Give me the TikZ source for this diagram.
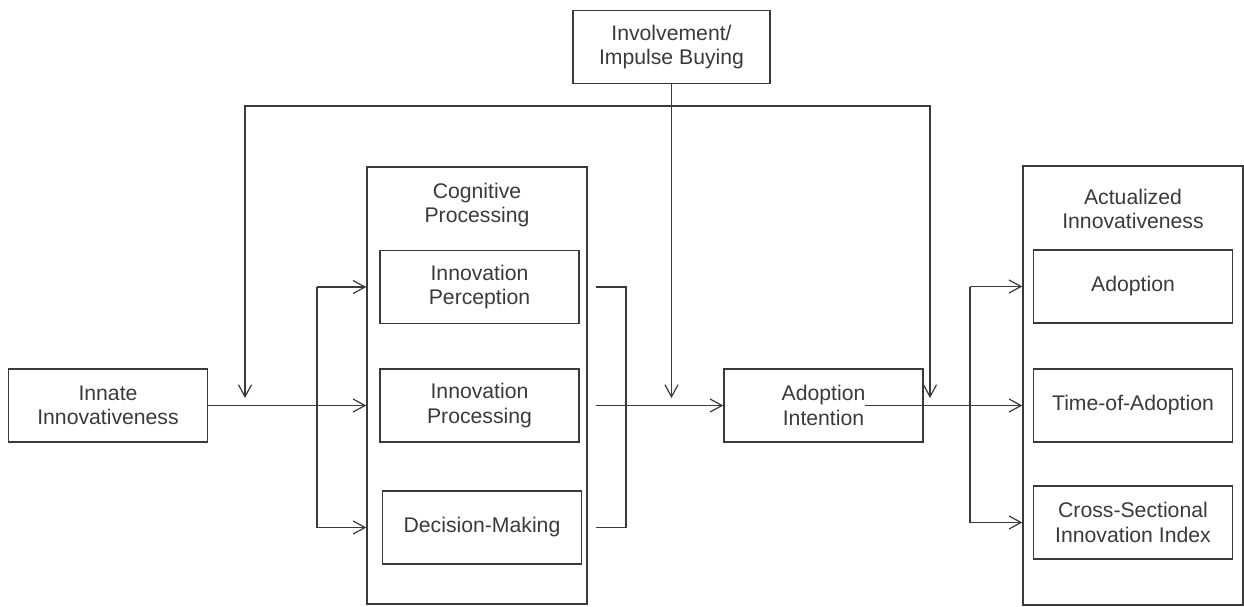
\documentclass[tikz,border=0pt]{standalone}
\usepackage{fontspec}
\setmainfont{Liberation Sans}
\usetikzlibrary{arrows.meta,calc}
\definecolor{linegray}{HTML}{3A3A3A}
\tikzstyle{block}=[draw=linegray,line width=0.7pt,text=linegray,align=center,inner sep=0pt,minimum width=99.5pt,minimum height=36.5pt,font=\fontsize{10.6}{12.2}\selectfont]
\tikzstyle{frame}=[draw=linegray,line width=0.7pt,inner sep=0pt,minimum width=110pt]
\tikzstyle{caption}=[text=linegray,align=center,inner sep=0pt,font=\fontsize{10.6}{12.2}\selectfont]
\tikzstyle{edge}=[draw=linegray,line width=0.6pt,->]
\tikzstyle{line}=[draw=linegray,line width=0.6pt]

\begin{document}
\begin{tikzpicture}[x=0.5pt,y=-0.5pt,>={Straight Barb[length=6pt,width=6.5pt]}]
    \useasboundingbox (0,0) rectangle (1244,606);

    % outer frames
    \node[frame,minimum height=218.5pt] (cog) at (477,385.5) {};
    \node[frame,minimum height=219.5pt] (act) at (1133,385.5) {};
    \node[caption] (coglabel) at (477,205) {Cognitive\\Processing};
    \node[caption] (actlabel) at (1133,209) {Actualized\\Innovativeness};

    % blocks
    \node[block] (innate) at (108,405.5) {Innate\\Innovativeness};
    \node[block,minimum width=98.5pt] (inv) at (671.5,47) {Involvement/\\Impulse Buying};
    \node[block] (adint) at (823.5,405.5) {Adoption\\Intention};

    \foreach \name/\x/\y/\txt in {perc/479.5/287/{Innovation\\Perception},
                                  proc/479.5/405.5/{Innovation\\Processing},
                                  dec/482/527.5/{Decision-Making}}
        \node[block] (\name) at (\x,\y) {\txt};

    \foreach \name/\y/\txt in {adop/286.5/{Adoption},
                               time/405.5/{Time-of-Adoption},
                               cross/522.5/{Cross-Sectional\\Innovation Index}}
        \node[block] (\name) at (1133,\y) {\txt};

    % junction points
    \coordinate (jl) at (317,0);
    \coordinate (ostart) at (596,0);
    \coordinate (jr) at (626,0);
    \coordinate (aiout) at (865,405.5);
    \coordinate (jo) at (970,0);
    \coordinate (fbtop) at (0,106);
    \coordinate (fbL) at (245,398);
    \coordinate (fbR) at (930,398);

    % input to cognitive processing
    \draw[edge] (innate.east) -- (innate.east -| cog.west);
    \path[line] (perc -| jl) -- (dec -| jl);
    \foreach \dest in {perc,dec}
        \draw[edge] (\dest -| jl) -- (\dest -| cog.west);

    % cognitive processing to adoption intention
    \path[line] (perc -| ostart) -| (dec -| jr) -- (dec -| ostart);
    \draw[edge] (proc -| ostart) -- (adint.west);

    % moderators
    \draw[edge,<->] (fbL) -- (fbL |- fbtop) -- (fbR |- fbtop) -- (fbR);
    \draw[edge] (inv.south) -- (inv.south |- fbL);

    % adoption intention to actualized innovativeness
    \draw[edge] (aiout) -- (aiout -| act.west);
    \path[line] (adop -| jo) -- (cross -| jo);
    \foreach \dest in {adop,cross}
        \draw[edge] (\dest -| jo) -- (\dest -| act.west);

\end{tikzpicture}
\end{document}
